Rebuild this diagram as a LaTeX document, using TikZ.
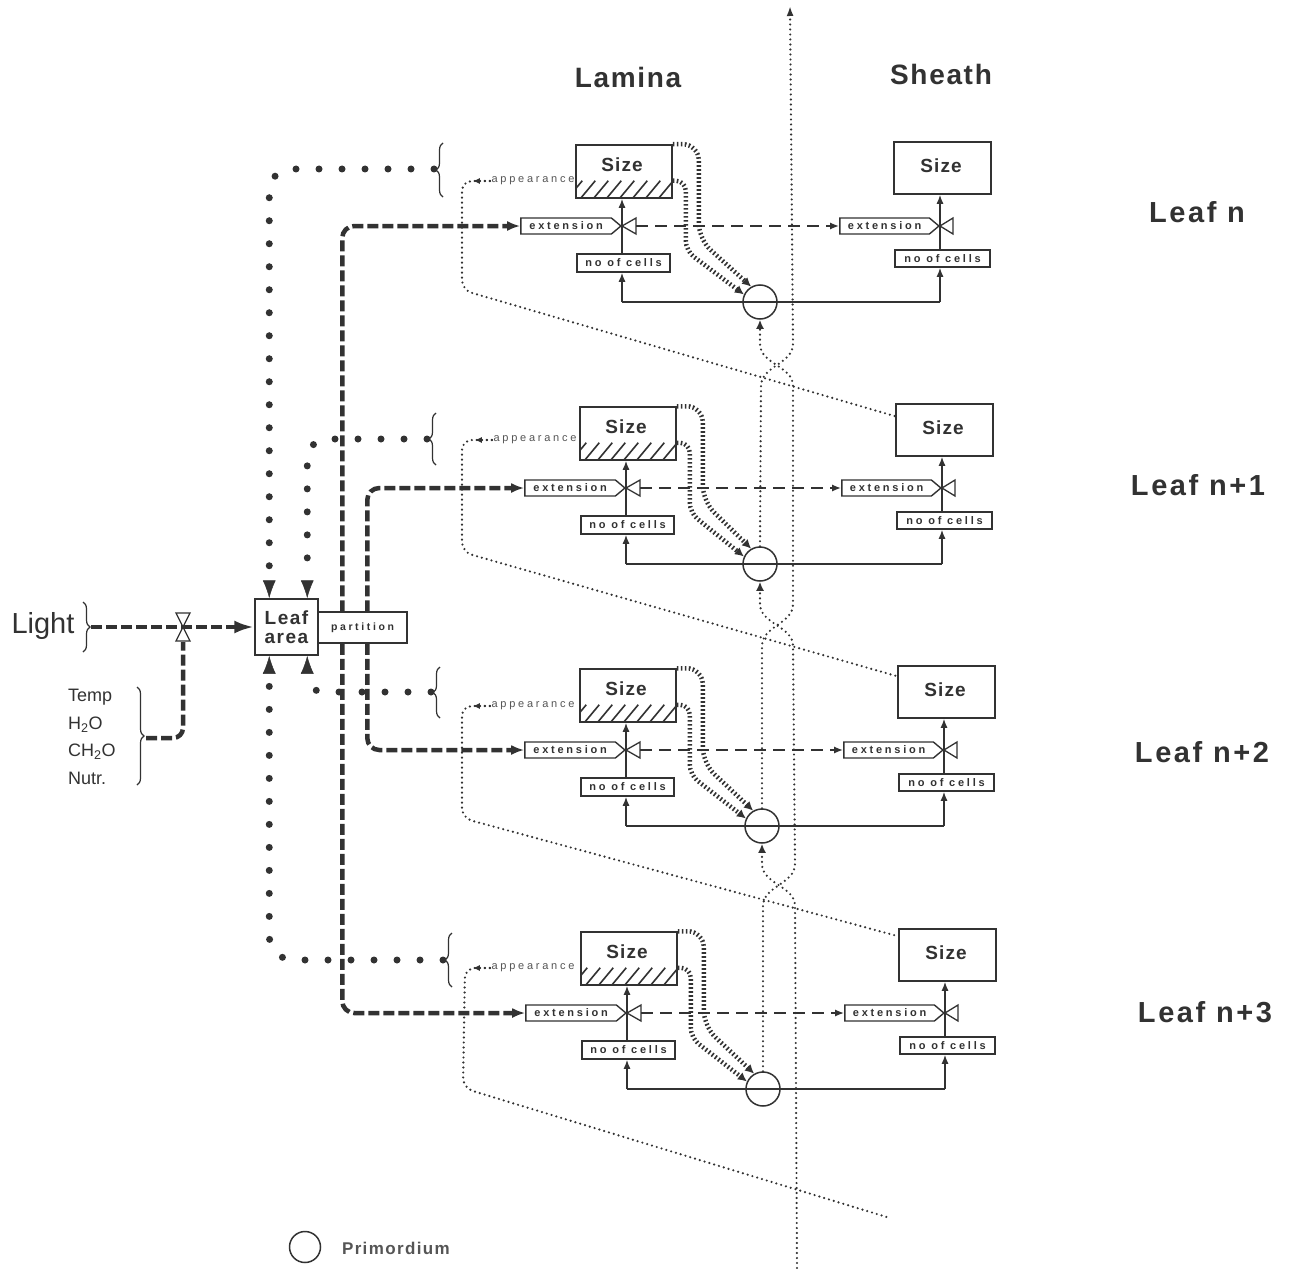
\documentclass[tikz,border=0pt]{standalone}
\usepackage{fontspec}
\setmainfont{Liberation Sans}
\newfontfamily\spcfont[LetterSpace=25]{Liberation Sans}
\newfontfamily\ttlfont[LetterSpace=6]{Liberation Sans}
\newfontfamily\lffont[LetterSpace=9]{Liberation Sans}
\newfontfamily\lafont[LetterSpace=8]{Liberation Sans}
\newfontfamily\prfont[LetterSpace=8]{Liberation Sans}
\usetikzlibrary{arrows.meta,shapes.symbols,decorations.pathreplacing,calc}
\definecolor{ink}{RGB}{50,50,50}
\definecolor{inkl}{RGB}{85,85,85}
\begin{document}
\begin{tikzpicture}[x=1pt,y=-1pt,color=ink,line width=1.5pt,
  box/.style={draw,line width=1.5pt,inner sep=0pt},
  sizebox/.style={box,minimum width=96pt,minimum height=53pt},
  cellbox/.style={box,minimum width=93pt,minimum height=18pt,font=\spcfont\bfseries\fontsize{11}{11}\selectfont},
  extbox/.style={draw,line width=1.4pt,signal,signal to=east,signal pointer angle=80,minimum height=16pt,minimum width=100pt,inner sep=1pt,font=\spcfont\bfseries\fontsize{11}{11}\selectfont},
  sizetxt/.style={font=\ttlfont\bfseries\fontsize{19}{19}\selectfont},
  prim/.style={circle,draw,line width=1.5pt,minimum size=34pt,inner sep=0pt},
  apptxt/.style={font=\spcfont\fontsize{11}{11}\selectfont,text=inkl,inner sep=1pt},
  thindot/.style={line width=2.4pt,dash pattern=on 0pt off 5pt,line cap=round},
  bigdot/.style={line width=7pt,dash pattern=on 0pt off 23pt,line cap=round},
  thickdot/.style={line width=4.5pt,dash pattern=on 1.6pt off 2.4pt},
  thickdash/.style={line width=4.5pt,dash pattern=on 11pt off 4pt},
  meddash/.style={line width=1.8pt,dash pattern=on 12pt off 7pt},
  brc/.style={decorate,decoration={brace,amplitude=7pt},line width=1.2pt},
  valvetri/.style={line width=1.3pt,fill=white},
  titletxt/.style={font=\ttlfont\bfseries\fontsize{28}{28}\selectfont},
  leaftxt/.style={font=\lffont\bfseries\fontsize{29}{29}\selectfont},
]
\fill[white] (0,0) rectangle (1292,1268);
\useasboundingbox (0,0) rectangle (1292,1268);

% ---------- titles ----------
\node[titletxt] (lam) at (628,77) {Lamina};
\node[titletxt] (she) at (941,74) {Sheath};
\node[leaftxt] (l1) at (1197,212) {Leaf n};
\node[leaftxt] (l2) at (1198,485) {Leaf n+1};
\node[leaftxt] (l3) at (1202,752) {Leaf n+2};
\node[leaftxt] (l4) at (1205,1012) {Leaf n+3};

% ---------- rows ----------
\foreach \rr/\yy/\xl/\xs/\xc in {1/0/0/0/0,2/262/4/2/0,3/524/4/4/2,4/787/5/5/3}{
  \node[sizebox] (ls\rr) at (624+\xl,171.5+\yy) {};
  \begin{scope}
    \clip ($(ls\rr.south west)+(0,-18)$) rectangle (ls\rr.south east);
    \foreach \k in {0,...,8}
      \draw[line width=1.6pt] ($(ls\rr.south west)+(\k*13-8,0)$) -- ++(15,-18);
  \end{scope}
  \node[sizetxt] (lst\rr) at (622+\xl,165+\yy) {Size};
  \node[extbox,anchor=east] (le\rr) at (622+\xl,226+\yy) {extension};
  \draw[valvetri] (le\rr.east) -- ++(14,-8) -- ++(0,16) -- cycle;
  \node[cellbox] (ln\rr) at (623.5+\xl,263+\yy) {no of cells};
  \coordinate (hl\rr) at (622+\xl,302+\yy);
  \node[sizebox,minimum width=97pt,minimum height=52pt] (ss\rr) at (942.5+\xs,168+\yy) {};
  \node[sizetxt] (sst\rr) at (941+\xs,166+\yy) {Size};
  \node[extbox,anchor=east,minimum width=99pt] (se\rr) at (940+\xs,226+\yy) {extension};
  \draw[valvetri] (se\rr.east) -- ++(13,-8) -- ++(0,16) -- cycle;
  \node[cellbox,minimum width=95pt,minimum height=17pt] (sn\rr) at (942.5+\xs,258.5+\yy) {no of cells};
  \coordinate (hr\rr) at (940+\xs,302+\yy);
  \node[prim] (pc\rr) at (760+\xc,302+\yy) {};
  \draw (hl\rr) -- (hr\rr);
  \draw[-{Latex[length=9pt,width=7pt]}] (hl\rr) -- (ln\rr.south -| hl\rr);
  \draw[-{Latex[length=9pt,width=7pt]}] (ln\rr.north -| hl\rr) -- (ls\rr.south -| hl\rr);
  \draw[-{Latex[length=9pt,width=7pt]}] (hr\rr) -- (sn\rr.south -| hr\rr);
  \draw[-{Latex[length=9pt,width=7pt]}] (sn\rr.north -| hr\rr) -- (ss\rr.south -| hr\rr);
  \draw[meddash,-{Latex[length=9pt,width=7pt]}] ($(le\rr.east)+(14,0)$) -- (se\rr.west);
  \draw[thickdot,rounded corners=16,-{Latex[length=9pt,width=9pt]}] (ls\rr.north east) -| ($(ls\rr.north east)+(26,95)$) -- (pc\rr.120);
  \draw[thickdot,rounded corners=10,-{Latex[length=9pt,width=9pt]}] ($(ls\rr.south east)+(0,-18)$) -| ($(ls\rr.south east)+(13,52)$) -- (pc\rr.155);
}

% ---------- appearance ----------
\node[apptxt] (ap1) at (533,181) {appearance};
\node[apptxt] (ap2) at (535,440) {appearance};
\node[apptxt] (ap3) at (533,706) {appearance};
\node[apptxt] (ap4) at (533,968) {appearance};
\coordinate (dend) at (890,1218);
\draw[thindot,rounded corners=10] (ap1.west) -- (462,181) -- (462,290) -- ($(ss2.north west)+(0,13)$);
\draw[thindot,rounded corners=10] (ap2.west) -- (462,440) -- (462,552) -- ($(ss3.north west)+(0,11)$);
\draw[thindot,rounded corners=10] (ap3.west) -- (462,706) -- (462,818) -- ($(ss4.north west)+(0,8)$);
\draw[thindot,rounded corners=10] (ap4.west) -- (465,968) -- (463,1088) -- (dend);
\foreach \rr in {1,2,3,4}
  \draw[thindot,-{Latex[length=7pt,width=6pt]}] (ap\rr.west) -- ++(-17,0);

% ---------- primordium strands ----------
\coordinate (axtop) at (790,6);
\coordinate (axbot) at (797,1268);
\draw[thindot,-{Latex[length=10pt,width=7pt]}] (pc2.north) -- (761,386) .. controls (761,366) and (793,364) .. (793,344) -- (axtop);
\draw[thindot,-{Latex[length=9pt,width=8pt]}] (pc3.north) -- (762,646) .. controls (762,626) and (793,624) .. (793,604) -- (793,386) .. controls (793,366) and (760,364) .. (760,344) -- (pc1.south);
\draw[thindot,-{Latex[length=9pt,width=8pt]}] (pc4.north) -- (763,906) .. controls (763,886) and (795,884) .. (795,864) -- (793,646) .. controls (793,626) and (760,624) .. (760,604) -- (pc2.south);
\draw[thindot,-{Latex[length=9pt,width=8pt]}] (axbot) -- (795,906) .. controls (795,886) and (762,884) .. (762,864) -- (pc3.south);

% ---------- left part ----------
\node[box,minimum width=63pt,minimum height=56pt,align=left,font=\lafont\bfseries\fontsize{19}{19}\selectfont] (la) at (286.5,627) {Leaf\\area};
\node[box,minimum width=89pt,minimum height=31pt,font=\spcfont\bfseries\fontsize{10.5}{11}\selectfont] (pt) at (362.5,627.5) {partition};

\node[font=\fontsize{29}{29}\selectfont] (lt) at (43,626) {Light};
\draw[brc] (83,602) -- (83,652);
\coordinate (lb) at (91,627);
\node[anchor=west,align=left,font=\fontsize{18}{27.5}\selectfont] (tx) at (64,737) {Temp\\H\textsubscript{2}O\\CH\textsubscript{2}O\\Nutr.};
\draw[brc] (137,687) -- (137,785);
\coordinate (tb) at (146,738);
\coordinate (lv) at (183,627);
\draw[thickdash,-{Latex[length=20pt,width=13pt]}] (lb) -- (la.west);
\draw[thickdash,rounded corners=10] (tb) -| ($(lv)+(0,15)$);
\draw[valvetri] (lv) -- ++(-7,-14) -- ++(14,0) -- cycle;
\draw[valvetri] (lv) -- ++(-7,14) -- ++(14,0) -- cycle;

% partition -> extension
\draw[thickdash,rounded corners=12,-{Latex[length=13pt,width=10pt]}] ($(pt.north west)+(25,0)$) |- (le1.west);
\draw[thickdash,rounded corners=12,-{Latex[length=13pt,width=10pt]}] ($(pt.north west)+(50,0)$) |- (le2.west);
\draw[thickdash,rounded corners=12,-{Latex[length=13pt,width=10pt]}] ($(pt.south west)+(50,0)$) |- (le3.west);
\draw[thickdash,rounded corners=12,-{Latex[length=13pt,width=10pt]}] ($(pt.south west)+(25,0)$) |- (le4.west);

% braces and big dotted feedback
\draw[brc] (443,197) -- (443,143);
\draw[brc] (436,465) -- (436,413);
\draw[brc] (440,718) -- (440,667);
\draw[brc] (452,987) -- (452,933);
\coordinate (b1) at (434,169);
\coordinate (b2) at (427,439);
\coordinate (b3) at (431,692);
\coordinate (b4) at (443,960);
\draw[bigdot,rounded corners=22,-{Latex[length=18pt,width=13pt,line width=0.5pt]}] (b1) -| ($(la.north west)+(15,0)$);
\draw[bigdot,rounded corners=20,-{Latex[length=18pt,width=13pt,line width=0.5pt]}] (b2) -| ($(la.north west)+(53,0)$);
\draw[bigdot,rounded corners=16,-{Latex[length=18pt,width=13pt,line width=0.5pt]}] (b3) -| ($(la.south west)+(53,0)$);
\draw[bigdot,rounded corners=24,-{Latex[length=18pt,width=13pt,line width=0.5pt]}] (b4) -| ($(la.south west)+(15,0)$);

% legend
\node[prim,minimum size=31pt] (lgc) at (305,1247) {};
\node[anchor=west,font=\prfont\bfseries\fontsize{17}{17}\selectfont,text=inkl] (lgt) at (338,1248) {Primordium};
\end{tikzpicture}
\end{document}
